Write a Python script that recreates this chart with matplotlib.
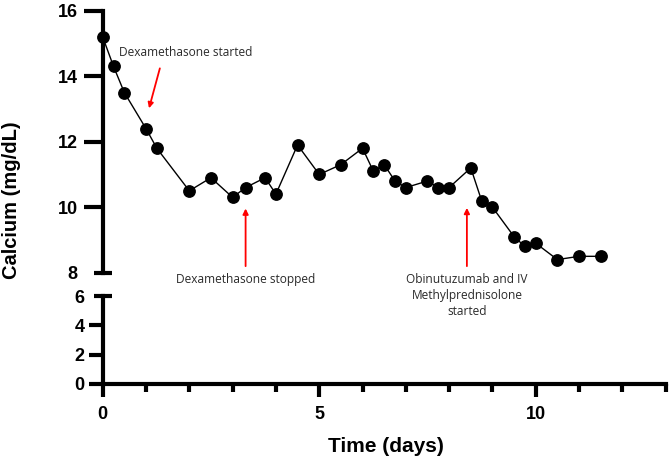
import matplotlib
matplotlib.use("Agg")
import matplotlib.pyplot as plt

# calcium readings over time
days = [0, 0.25, 0.5, 1.0, 1.25, 2.0, 2.5, 3.0, 3.3, 3.75, 4.0,
        4.5, 5.0, 5.5, 6.0, 6.25, 6.5, 6.75, 7.0, 7.5, 7.75, 8.0,
        8.5, 8.75, 9.0, 9.5, 9.75, 10.0, 10.5, 11.0, 11.5]
calcium = [15.2, 14.3, 13.5, 12.4, 11.8, 10.5, 10.9, 10.3, 10.6, 10.9, 10.4,
           11.9, 11.0, 11.3, 11.8, 11.1, 11.3, 10.8, 10.6, 10.8, 10.6, 10.6,
           11.2, 10.2, 10.0, 9.1, 8.8, 8.9, 8.4, 8.5, 8.5]

upper_ticks = [8, 10, 12, 14, 16]
lower_ticks = [0, 2, 4, 6]
x_major = [0, 5, 10]
x_minor = list(range(0, 14))

# annotations: text, text position, arrow tail, arrow head
notes = [
    ("Dexamethasone started", (1.91, 14.71), (1.32, 14.24), (1.07, 13.02)),
    ("Dexamethasone stopped", (3.30, 7.78), (3.30, 8.2), (3.30, 9.96)),
    ("Obinutuzumab and IV\nMethylprednisolone\nstarted", (8.41, 7.30), (8.41, 8.2), (8.41, 9.98)),
]

fig = plt.figure(figsize=(6.69, 4.58), dpi=100)
left, right = 0.1535, 0.995
ax_top = fig.add_axes([left, 0.4046, right - left, 0.9766 - 0.4046])
ax_bot = fig.add_axes([left, 0.1616, right - left, 0.3537 - 0.1616])

spine_w = 3.0
tick_font = {"family": "Liberation Sans", "weight": "bold", "size": 13}

for ax in (ax_top, ax_bot):
    ax.set_xlim(0, 13)
    ax.spines["top"].set_visible(False)
    ax.spines["right"].set_visible(False)
    ax.spines["left"].set_linewidth(spine_w)
    ax.spines["bottom"].set_linewidth(spine_w)
    ax.patch.set_alpha(0)

# upper panel with the data
ax_top.plot(days, calcium, color="black", lw=1.0, marker="o", ms=8.2,
            mfc="black", mec="black", clip_on=False, zorder=3)
ax_top.set_ylim(8, 16)
ax_top.spines["bottom"].set_visible(False)
ax_top.set_xticks([])
ax_top.set_yticks(upper_ticks)
ax_top.set_yticklabels([str(t) for t in upper_ticks], fontdict=tick_font)
ax_top.tick_params(axis="y", length=14, width=spine_w, pad=4)
ax_top.yaxis.get_major_ticks()[0].tick1line.set_visible(False)

# lower panel
ax_bot.set_ylim(0, 6)
ax_bot.set_yticks(lower_ticks)
ax_bot.set_yticklabels([str(t) for t in lower_ticks], fontdict=tick_font)
ax_bot.tick_params(axis="y", length=10, width=spine_w, pad=3)
ax_bot.yaxis.get_major_ticks()[-1].tick1line.set_visible(False)
ax_bot.set_xticks(x_major)
ax_bot.set_xticklabels([str(t) for t in x_major], fontdict=tick_font)
ax_bot.set_xticks(x_minor, minor=True)
ax_bot.tick_params(axis="x", which="major", length=9, width=spine_w, pad=7)
ax_bot.tick_params(axis="x", which="minor", length=5.5, width=spine_w)

# end caps at the axis break
for ax, yv in ((ax_top, 8), (ax_bot, 6)):
    tr = matplotlib.transforms.blended_transform_factory(ax.transAxes, ax.transData)
    ax.plot([-0.015, 0.016], [yv, yv], color="black", lw=spine_w,
            transform=tr, clip_on=False, solid_capstyle="butt")

for text, tpos, tail, head in notes:
    ax_top.text(tpos[0], tpos[1], text, ha="center", va="center",
                fontsize=8.6, family="Open Sans", color="#2a2a2a",
                linespacing=1.3, clip_on=False)
    ax_top.annotate("", xy=head, xytext=tail,
                    arrowprops=dict(arrowstyle="-|>", color="red", lw=1.3,
                                    mutation_scale=8, shrinkA=0, shrinkB=0),
                    annotation_clip=False)

fig.text(0.017, 0.562, "Calcium (mg/dL)", rotation=90, ha="center", va="center",
         family="Liberation Sans", weight="bold", size=14.5)
fig.text(0.577, 0.026, "Time (days)", ha="center", va="center",
         family="Liberation Sans", weight="bold", size=15)

fig.savefig("out.png", dpi=100)
